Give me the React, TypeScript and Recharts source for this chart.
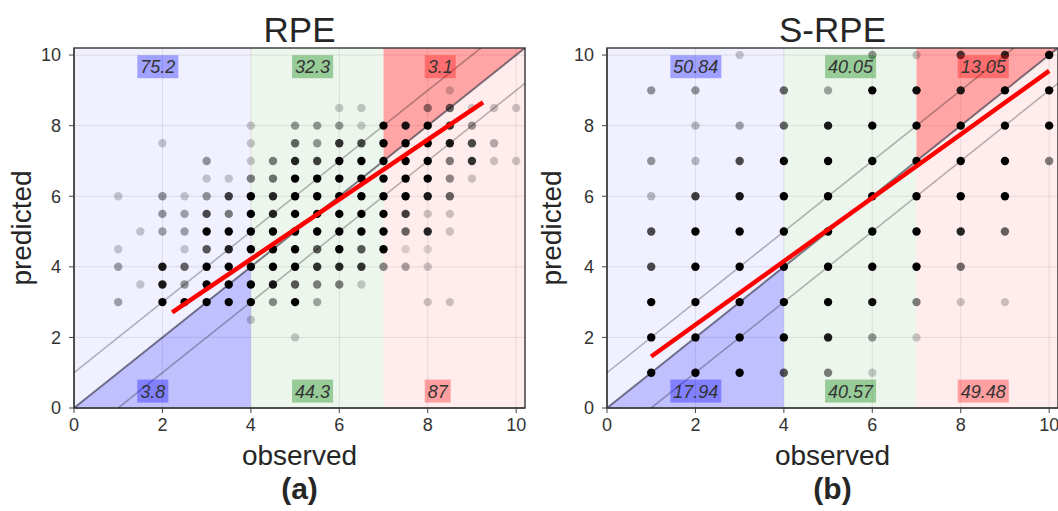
import React from 'react';
import {
  ScatterChart,
  Scatter,
  XAxis,
  YAxis,
  CartesianGrid,
  ReferenceArea,
} from 'recharts';

const FONT = '"Liberation Sans", Arial, Helvetica, sans-serif';
const TICKS = [0, 2, 4, 6, 8, 10];
const AXIS_MAX = 10.2;

// ---------- RPE panel (a): half-point grid of observed (x) vs predicted (y), opacity = density
const rpeX = [1, 1.5, 2, 2.5, 3, 3.5, 4, 4.5, 5, 5.5, 6, 6.5, 7, 7.5, 8, 8.5, 9, 9.5, 10];
const rpeY = [9, 8.5, 8, 7.5, 7, 6.5, 6, 5.5, 5, 4.5, 4, 3.5, 3, 2.5, 2];
const rpeAlpha = [
  [0, 0, 0, 0, 0, 0, 0, 0, 0, 0, 0, 0, 0, 0, 0, 0.2, 0, 0, 0],
  [0, 0, 0, 0, 0, 0, 0, 0, 0, 0, 0.2, 0.2, 0, 0, 0.45, 0.6, 0.2, 0.2, 0.2],
  [0, 0, 0, 0, 0, 0, 0.2, 0, 0.4, 0.4, 0.4, 0.2, 1, 0.9, 1, 0.8, 0.4, 0, 0],
  [0, 0, 0.2, 0, 0, 0, 0.2, 0, 0.6, 0.4, 0.8, 0.7, 1, 1, 1, 0.9, 0.7, 0.3, 0],
  [0, 0, 0, 0, 0.4, 0, 0.2, 0.5, 0.85, 0.75, 1, 1, 1, 1, 1, 0.5, 0.8, 0.2, 0.2],
  [0, 0, 0, 0, 0.2, 0.2, 0.5, 0.55, 1, 1, 1, 1, 1, 1, 1, 0.45, 0.2, 0, 0],
  [0.2, 0, 0.4, 0.2, 0.4, 0.75, 1, 0.85, 1, 1, 1, 1, 1, 1, 0.9, 0.6, 0, 0, 0],
  [0, 0, 0.4, 0.35, 0.7, 0.5, 1, 0.85, 1, 1, 1, 1, 1, 0.75, 0.2, 0.2, 0, 0, 0],
  [0, 0.2, 0.35, 0.35, 1, 1, 1, 1, 1, 1, 1, 1, 1, 0.6, 0.85, 0.2, 0, 0, 0],
  [0.2, 0, 0, 0.2, 0.65, 0.85, 1, 1, 1, 0.65, 1, 0.65, 1, 0.15, 0.15, 0, 0, 0, 0],
  [0.35, 0, 0.9, 0.6, 1, 1, 1, 1, 1, 0.8, 0.85, 0.8, 0.45, 0.35, 0.2, 0, 0, 0, 0],
  [0, 0.2, 0.9, 0.4, 1, 1, 1, 0.9, 0.65, 0.5, 0.5, 0.2, 0, 0, 0, 0, 0, 0, 0],
  [0.35, 0, 1, 1, 1, 1, 1, 0.45, 1, 0.35, 0, 0, 0, 0, 0.2, 0.2, 0, 0, 0],
  [0, 0, 0, 0, 0, 0, 0.2, 0, 0, 0, 0, 0, 0, 0, 0, 0, 0, 0, 0],
  [0, 0, 0, 0, 0, 0, 0, 0, 0.2, 0, 0, 0, 0, 0, 0, 0, 0, 0, 0],
];
const rpeFit = [
  { x: 2.22, y: 2.71 },
  { x: 9.25, y: 8.66 },
];
const rpeTop = ['75.2', '32.3', '3.1'];
const rpeBottom = ['3.8', '44.3', '87'];

// ---------- S-RPE panel (b): integer grid
const srpeX = [1, 2, 3, 4, 5, 6, 7, 8, 9, 10];
const srpeY = [10, 9, 8, 7, 6, 5, 4, 3, 2, 1];
const srpeAlpha = [
  [0, 0, 0.2, 0, 0, 0.4, 0.2, 0.7, 0.8, 1],
  [0.4, 0.4, 0, 0.6, 0.35, 1, 0.95, 0.85, 1, 1],
  [0, 0.25, 0.35, 0.6, 0.9, 1, 1, 1, 1, 1],
  [0.4, 0.25, 0.7, 1, 1, 1, 1, 1, 1, 0.5],
  [0.25, 0.75, 0.9, 1, 1, 1, 1, 1, 1, 0],
  [0.7, 1, 1, 1, 1, 1, 1, 0.85, 0.6, 0],
  [0.7, 1, 1, 1, 1, 1, 1, 0.55, 0, 0],
  [1, 1, 1, 1, 1, 0.95, 0.5, 0.2, 0.2, 0],
  [1, 1, 1, 1, 0.9, 0.4, 0.2, 0, 0, 0],
  [1, 1, 1, 0.65, 0.5, 0.2, 0, 0, 0, 0],
];
const srpeFit = [
  { x: 1, y: 1.46 },
  { x: 10, y: 9.55 },
];
const srpeTop = ['50.84', '40.05', '13.05'];
const srpeBottom = ['17.94', '40.57', '49.48'];

// ---------- zones and annotation positions
const zoneEdges = [0, 4, 7, AXIS_MAX];
const labelX = [1.5, 5, 8];
const labelYTop = 9.67;
const labelYBottom = 0.48;

const diagUpper = [
  { x: 0, y: 1 },
  { x: 9.2, y: 10.2 },
];
const diagMid = [
  { x: 0, y: 0 },
  { x: 10.2, y: 10.2 },
];
const diagLower = [
  { x: 1, y: 0 },
  { x: 10.2, y: 9.2 },
];

const zoneFill = ['rgba(0,0,255,0.06)', 'rgba(0,128,0,0.07)', 'rgba(255,0,0,0.07)'];
const boxFill = ['rgba(0,0,255,0.33)', 'rgba(0,128,0,0.36)', 'rgba(255,0,0,0.33)'];

function buildDots(xs: number[], ys: number[], alpha: number[][]) {
  const out: { x: number; y: number; a: number }[] = [];
  ys.forEach((y, i) =>
    xs.forEach((x, j) => {
      const a = alpha[i][j];
      if (a > 0) out.push({ x, y, a });
    })
  );
  return out;
}

function buildLabels(top: string[], bottom: string[]) {
  const out: { x: number; y: number; text: string; box: string }[] = [];
  labelX.forEach((x, i) => {
    out.push({ x, y: labelYTop, text: top[i], box: boxFill[i] });
    out.push({ x, y: labelYBottom, text: bottom[i], box: boxFill[i] });
  });
  return out;
}

function textWidth(s: string, size: number) {
  let w = 0;
  for (const c of s) w += c === '.' ? 0.278 : 0.556;
  return w * size;
}

const DotShape = (p: any) => {
  const a = p?.payload?.a ?? p?.a ?? 1;
  return <circle cx={p.cx} cy={p.cy} r={4.2} fill="#000" fillOpacity={a} />;
};

const LabelShape = (p: any) => {
  const d = p?.payload ?? p;
  const fs = 18;
  const w = textWidth(d.text, fs) + 6;
  return (
    <g>
      <rect x={p.cx - 3} y={p.cy - 11.5} width={w} height={23} fill={d.box} />
      <text
        x={p.cx}
        y={p.cy + 6.5}
        fontSize={fs}
        fontStyle="italic"
        fill="#333"
        fontFamily={FONT}
      >
        {d.text}
      </text>
    </g>
  );
};

const NoShape = () => <g />;

const BlueTriangle = (p: any) => {
  const { x, y, width, height } = p;
  return (
    <polygon
      points={`${x},${y + height} ${x + width},${y + height} ${x + width},${y}`}
      fill="rgba(0,0,255,0.2)"
    />
  );
};

const RedTriangle = (p: any) => {
  const { x, y, width, height } = p;
  return (
    <polygon points={`${x},${y + height} ${x},${y} ${x + width},${y}`} fill="rgba(255,0,0,0.3)" />
  );
};

const tickStyle = { fill: '#333', fontSize: 18, fontFamily: FONT };

function Panel({
  left,
  dots,
  fit,
  labels,
}: {
  left: number;
  dots: { x: number; y: number; a: number }[];
  fit: { x: number; y: number }[];
  labels: { x: number; y: number; text: string; box: string }[];
}) {
  return (
    <div style={{ position: 'absolute', left, top: 0, width: 540, height: 511 }}>
      <ScatterChart width={540} height={511} margin={{ top: 48, right: 15, bottom: 63, left: 14 }}>
        <CartesianGrid stroke="rgba(0,0,0,0.09)" strokeWidth={1} />
        <XAxis
          type="number"
          dataKey="x"
          domain={[0, AXIS_MAX]}
          ticks={TICKS}
          height={40}
          interval={0}
          allowDataOverflow
          tick={tickStyle}
          tickSize={5}
          tickMargin={5}
          stroke="#444"
          axisLine={{ stroke: '#444', strokeWidth: 1.5 }}
          tickLine={{ stroke: '#444' }}
        />
        <YAxis
          type="number"
          dataKey="y"
          domain={[0, AXIS_MAX]}
          ticks={TICKS}
          width={60}
          interval={0}
          allowDataOverflow
          tick={tickStyle}
          tickSize={5}
          tickMargin={8}
          stroke="#444"
          axisLine={{ stroke: '#444', strokeWidth: 1.5 }}
          tickLine={{ stroke: '#444' }}
        />
        {zoneFill.map((f, i) => (
          <ReferenceArea
            key={'z' + i}
            x1={zoneEdges[i]}
            x2={zoneEdges[i + 1]}
            y1={0}
            y2={AXIS_MAX}
            fill={f}
            fillOpacity={1}
            stroke="none"
            ifOverflow="visible"
          />
        ))}
        <ReferenceArea
          x1={0}
          x2={zoneEdges[1]}
          y1={0}
          y2={zoneEdges[1]}
          shape={BlueTriangle}
          ifOverflow="visible"
        />
        <ReferenceArea
          x1={zoneEdges[2]}
          x2={AXIS_MAX}
          y1={zoneEdges[2]}
          y2={AXIS_MAX}
          shape={RedTriangle}
          ifOverflow="visible"
        />
        <ReferenceArea
          x1={0}
          x2={AXIS_MAX}
          y1={0}
          y2={AXIS_MAX}
          fill="none"
          fillOpacity={0}
          stroke="#444"
          strokeWidth={1.5}
          ifOverflow="visible"
        />
        <Scatter
          data={diagUpper}
          fill="rgba(0,0,0,0.28)"
          line={{ stroke: 'rgba(0,0,0,0.28)', strokeWidth: 1.6 }}
          shape={NoShape}
          isAnimationActive={false}
        />
        <Scatter
          data={diagLower}
          fill="rgba(0,0,0,0.28)"
          line={{ stroke: 'rgba(0,0,0,0.28)', strokeWidth: 1.6 }}
          shape={NoShape}
          isAnimationActive={false}
        />
        <Scatter
          data={diagMid}
          fill="rgba(0,0,0,0.55)"
          line={{ stroke: 'rgba(40,40,60,0.6)', strokeWidth: 2 }}
          shape={NoShape}
          isAnimationActive={false}
        />
        <Scatter data={dots} fill="#000" shape={DotShape} isAnimationActive={false} />
        <Scatter
          data={fit}
          fill="#ff0000"
          line={{ stroke: '#ff0000', strokeWidth: 4.5 }}
          shape={NoShape}
          isAnimationActive={false}
        />
        <Scatter data={labels} fill="#333" shape={LabelShape} isAnimationActive={false} />
      </ScatterChart>
    </div>
  );
}

export default function App() {
  const rpeDots = buildDots(rpeX, rpeY, rpeAlpha);
  const srpeDots = buildDots(srpeX, srpeY, srpeAlpha);
  const rpeLabels = buildLabels(rpeTop, rpeBottom);
  const srpeLabels = buildLabels(srpeTop, srpeBottom);
  const txt = { fontFamily: FONT, fill: '#262626' };
  return (
    <div
      style={{
        position: 'absolute',
        left: 0,
        top: 0,
        width: 1058,
        height: 511,
        overflow: 'hidden',
        background: '#fff',
      }}
    >
      <Panel left={0} dots={rpeDots} fit={rpeFit} labels={rpeLabels} />
      <Panel left={533} dots={srpeDots} fit={srpeFit} labels={srpeLabels} />
      <svg
        width={1058}
        height={511}
        style={{ position: 'absolute', left: 0, top: 0, pointerEvents: 'none' }}
      >
        <text x={299.5} y={42} fontSize={35} textAnchor="middle" {...txt}>
          RPE
        </text>
        <text x={832.5} y={42} fontSize={35} textAnchor="middle" {...txt}>
          S-RPE
        </text>
        <text x={299.5} y={465} fontSize={28} textAnchor="middle" {...txt}>
          observed
        </text>
        <text x={832.5} y={465} fontSize={28} textAnchor="middle" {...txt}>
          observed
        </text>
        <text x={31} y={228} fontSize={28} textAnchor="middle" transform="rotate(-90 31 228)" {...txt}>
          predicted
        </text>
        <text x={561} y={228} fontSize={28} textAnchor="middle" transform="rotate(-90 561 228)" {...txt}>
          predicted
        </text>
        <text x={299.5} y={499} fontSize={30} fontWeight="bold" textAnchor="middle" {...txt}>
          (a)
        </text>
        <text x={832.5} y={499} fontSize={30} fontWeight="bold" textAnchor="middle" {...txt}>
          (b)
        </text>
      </svg>
    </div>
  );
}
